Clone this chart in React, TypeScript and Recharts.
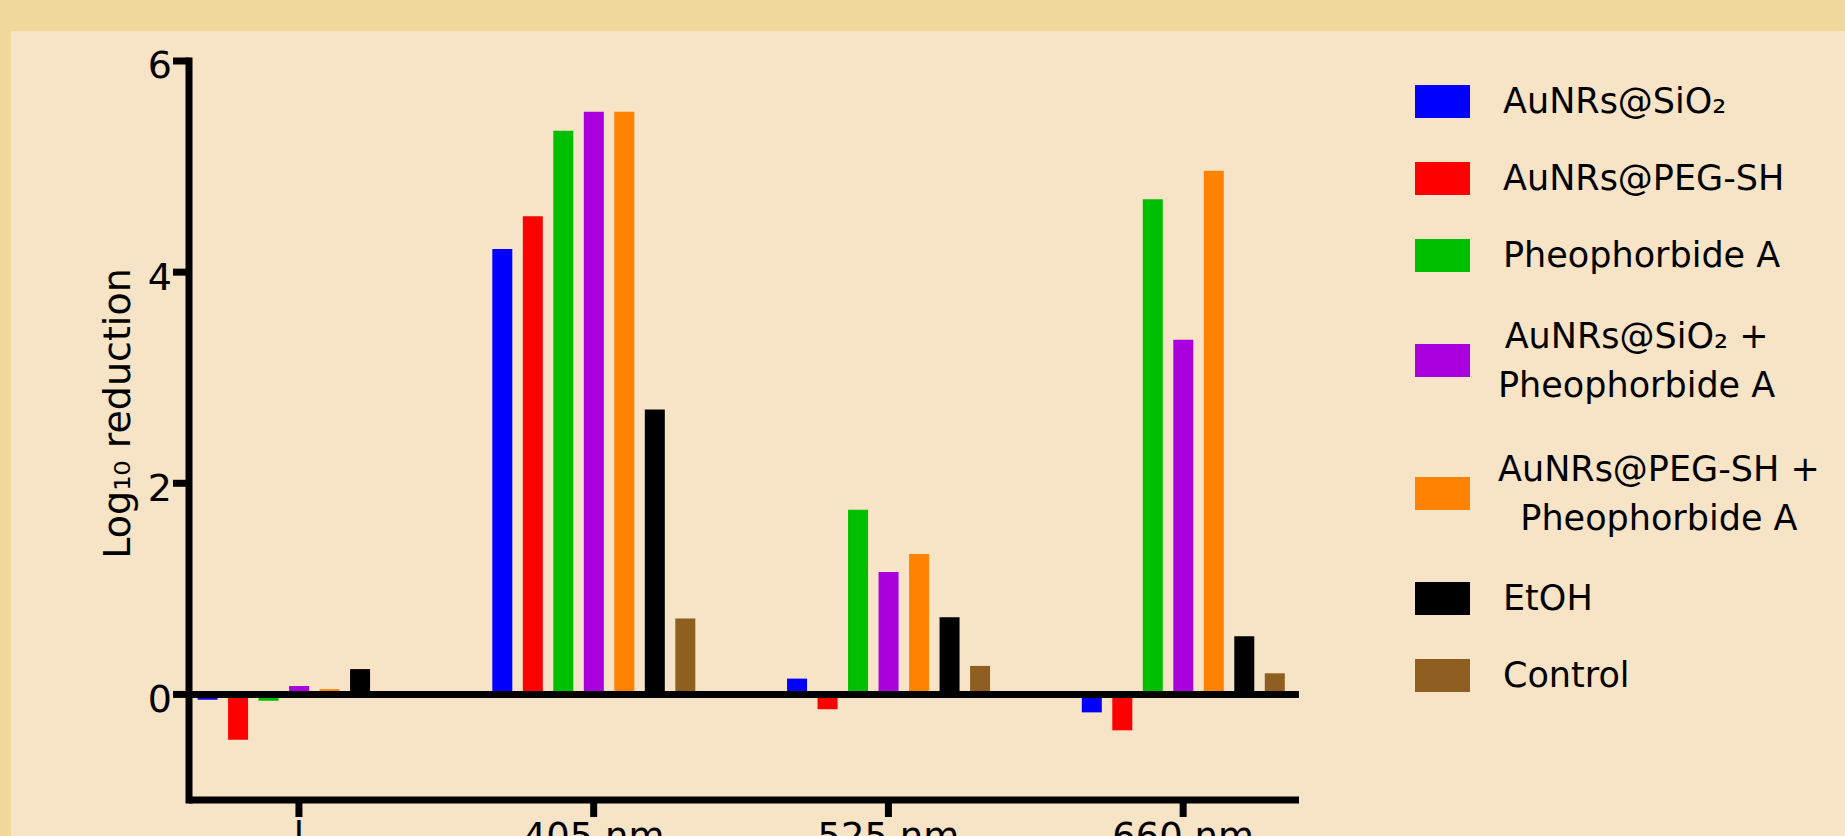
import React from 'react';
import {
  BarChart,
  Bar,
  XAxis,
  YAxis,
  ReferenceLine,
  Legend
} from 'recharts';

// categories (x) and one array per series
const categories = ['l', '405 nm', '525 nm', '660 nm'];
const aunrsSio2 = [-0.05, 4.22, 0.15, -0.17];
const aunrsPeg = [-0.43, 4.53, -0.14, -0.34];
const pheoA = [-0.06, 5.34, 1.75, 4.69];
const sio2Pheo = [0.08, 5.52, 1.16, 3.36];
const pegPheo = [0.05, 5.52, 1.33, 4.96];
const etoh = [0.24, 2.70, 0.73, 0.55];
const control = [0, 0.72, 0.27, 0.20];

const yTicks = [0, 2, 4, 6];

const series = [
  { key: 'sio2', name: 'AuNRs@SiO₂', values: aunrsSio2, color: '#0000FF' },
  { key: 'peg', name: 'AuNRs@PEG-SH', values: aunrsPeg, color: '#FF0000' },
  { key: 'pheo', name: 'Pheophorbide A', values: pheoA, color: '#00BE00' },
  { key: 'sio2pheo', name: 'AuNRs@SiO₂ +\nPheophorbide A', values: sio2Pheo, color: '#A900DD' },
  { key: 'pegpheo', name: 'AuNRs@PEG-SH +\nPheophorbide A', values: pegPheo, color: '#FF8200' },
  { key: 'etoh', name: 'EtOH', values: etoh, color: '#000000' },
  { key: 'control', name: 'Control', values: control, color: '#8E5F20' }
];

const data = categories.map((label, i) => {
  const row: Record<string, number | string> = { x: i, label };
  series.forEach(s => {
    row[s.key] = s.values[i];
  });
  return row;
});

const FONT = '"DejaVu Sans", Verdana, sans-serif';

// legend keeps the series order (recharts would sort it by name)
const renderLegend = () => (
  <div style={{ fontFamily: FONT, fontSize: 35, color: '#000' }}>
    {series.map(s => {
      const lines = s.name.split('\n');
      const double = lines.length > 1;
      return (
        <div
          key={s.key}
          style={{ display: 'flex', alignItems: 'center', height: double ? 133 : 77 }}
        >
          <div style={{ width: 55, height: 33, background: s.color, flexShrink: 0 }} />
          <div
            style={{
              marginLeft: double ? 28 : 33,
              textAlign: double ? 'center' : 'left',
              lineHeight: '49px',
              whiteSpace: 'pre'
            }}
          >
            {s.name}
          </div>
        </div>
      );
    })}
  </div>
);

const YTitle = (props: any) => {
  const { viewBox } = props;
  const cx = viewBox.x + 117;
  const cy = viewBox.y + viewBox.height / 2 - 17;
  return (
    <text
      x={cx}
      y={cy}
      transform={`rotate(-90 ${cx} ${cy})`}
      textAnchor="middle"
      dominantBaseline="central"
      fontSize={38}
      fontFamily={FONT}
      fill="#000"
    >
      Log₁₀ reduction
    </text>
  );
};

export default function App() {
  return (
    <div
      style={{
        position: 'absolute',
        left: 0,
        top: 0,
        width: 1845,
        height: 836,
        background: '#F0D89B',
        overflow: 'hidden'
      }}
    >
      <div
        style={{
          position: 'absolute',
          left: 11,
          top: 31,
          right: 0,
          bottom: 0,
          background: '#F7E3C5'
        }}
      />
      <div style={{ position: 'absolute', left: 0, top: 0 }}>
        <BarChart
          width={1845}
          height={836}
          data={data}
          margin={{ top: 61, right: 546, bottom: 0, left: 0 }}
          barSize={20}
          barGap={10.5}
          style={{ fontFamily: FONT }}
        >
          <XAxis
            dataKey="x"
            type="number"
            domain={[-0.373, 3.393]}
            allowDataOverflow
            ticks={[0, 1, 2, 3]}
            tickFormatter={(v: number) => categories[v]}
            height={36}
            axisLine={{ stroke: '#000', strokeWidth: 7 }}
            tickLine={{ stroke: '#000', strokeWidth: 7 }}
            tickSize={17}
            tickMargin={6}
            tick={{ fill: '#000', fontSize: 37, fontFamily: FONT }}
            interval={0}
          />
          <YAxis
            type="number"
            domain={[-1, 6]}
            allowDataOverflow
            ticks={yTicks}
            width={189}
            axisLine={{ stroke: '#000', strokeWidth: 7, strokeLinecap: 'square' }}
            tickLine={{ stroke: '#000', strokeWidth: 7 }}
            tickSize={16}
            tickMargin={1}
            tick={{ fill: '#000', fontSize: 38, fontFamily: FONT, dy: 4 }}
            label={{ content: YTitle }}
          />
          {series.map(s => (
            <Bar
              key={s.key}
              dataKey={s.key}
              name={s.name}
              fill={s.color}
              isAnimationActive={false}
            />
          ))}
          <ReferenceLine y={0} stroke="#000" strokeWidth={7} />
          <Legend
            layout="vertical"
            align="center"
            verticalAlign="middle"
            content={renderLegend}
            wrapperStyle={{ left: 1415, top: 63, width: 430, height: 'auto' }}
          />
        </BarChart>
      </div>
    </div>
  );
}
